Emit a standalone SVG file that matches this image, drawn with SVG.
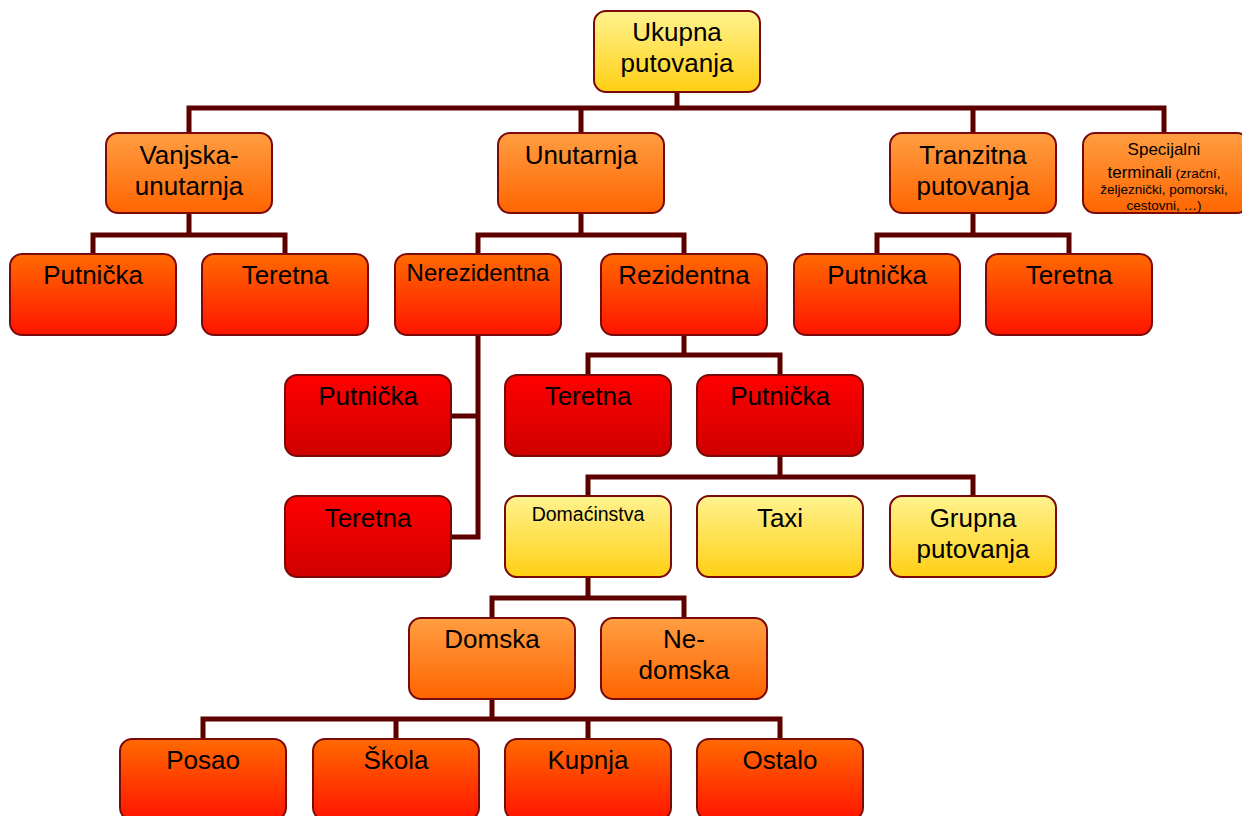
<svg xmlns="http://www.w3.org/2000/svg" width="1242" height="816" viewBox="0 0 1242 816">
<defs>
<linearGradient id="gY" x1="0" y1="0" x2="0" y2="1"><stop offset="0" stop-color="#fff38f"/><stop offset="1" stop-color="#ffcf14"/></linearGradient>
<linearGradient id="gO" x1="0" y1="0" x2="0" y2="1"><stop offset="0" stop-color="#ff9e42"/><stop offset="1" stop-color="#ff6500"/></linearGradient>
<linearGradient id="gR" x1="0" y1="0" x2="0" y2="1"><stop offset="0" stop-color="#ff6a00"/><stop offset="1" stop-color="#ff1400"/></linearGradient>
<linearGradient id="gD" x1="0" y1="0" x2="0" y2="1"><stop offset="0" stop-color="#ff0000"/><stop offset="1" stop-color="#cf0000"/></linearGradient>
</defs>
<style>
.b{stroke:#7a0a0a;stroke-width:2}
.y{fill:url(#gY)}.o{fill:url(#gO)}.r{fill:url(#gR)}.d{fill:url(#gD)}
text{font-family:"Liberation Sans",Arial,sans-serif;fill:#000;text-anchor:middle}
.t{font-size:26px}
.c{fill:none;stroke:#5c0000;stroke-width:5;stroke-linecap:butt;stroke-linejoin:miter}
</style>
<rect width="1242" height="816" fill="#fff"/>
<g id="connectors" class="c">
<path d="M677 92V108M189 133V108H1164V133M581 108V133M973 108V133"/>
<path d="M189 213V235M93 254V235H285V254"/>
<path d="M581 213V235M478 254V235H684V254"/>
<path d="M973 213V235M877 254V235H1069V254"/>
<path d="M478 335V537H451M478 416H451"/>
<path d="M684 335V355M588 375V355H780V375"/>
<path d="M780 456V477M588 496V477H973V496"/>
<path d="M588 577V598M492 618V598H684V618"/>
<path d="M492 699V719M203 739V719H780V739M396 719V739M588 719V739"/>
</g>
<g id="n-ukupna"><rect class="b y" x="594" y="11" width="166" height="81" rx="12"/><text class="t" x="677" y="41">Ukupna</text><text class="t" x="677" y="72">putovanja</text></g>
<g id="n-vanjska"><rect class="b o" x="106" y="133" width="166" height="80" rx="12"/><text class="t" x="189" y="164">Vanjska-</text><text class="t" x="189" y="195">unutarnja</text></g>
<g id="n-unutarnja"><rect class="b o" x="498" y="133" width="166" height="80" rx="12"/><text class="t" x="581" y="164">Unutarnja</text></g>
<g id="n-tranzitna"><rect class="b o" x="890" y="133" width="166" height="80" rx="12"/><text class="t" x="973" y="164">Tranzitna</text><text class="t" x="973" y="195">putovanja</text></g>
<g id="n-specijalni"><rect class="b o" x="1083" y="133" width="166" height="80" rx="12"/><text x="1164" y="155" font-size="17">Specijalni</text><text x="1164" y="178"><tspan font-size="17">terminali</tspan><tspan font-size="13.5"> (zrační,</tspan></text><text x="1164" y="194" font-size="13.5">željeznički, pomorski,</text><text x="1164" y="210" font-size="13.5">cestovni, …)</text></g>
<g id="n-putnicka1"><rect class="b r" x="10" y="254" width="166" height="81" rx="12"/><text class="t" x="93" y="284">Putnička</text></g>
<g id="n-teretna1"><rect class="b r" x="202" y="254" width="166" height="81" rx="12"/><text class="t" x="285" y="284">Teretna</text></g>
<g id="n-nerezidentna"><rect class="b r" x="395" y="254" width="166" height="81" rx="12"/><text x="478" y="281" font-size="24">Nerezidentna</text></g>
<g id="n-rezidentna"><rect class="b r" x="601" y="254" width="166" height="81" rx="12"/><text class="t" x="684" y="284">Rezidentna</text></g>
<g id="n-putnicka2"><rect class="b r" x="794" y="254" width="166" height="81" rx="12"/><text class="t" x="877" y="284">Putnička</text></g>
<g id="n-teretna2"><rect class="b r" x="986" y="254" width="166" height="81" rx="12"/><text class="t" x="1069" y="284">Teretna</text></g>
<g id="n-putnicka3"><rect class="b d" x="285" y="375" width="166" height="81" rx="12"/><text class="t" x="368" y="405">Putnička</text></g>
<g id="n-teretna3"><rect class="b d" x="505" y="375" width="166" height="81" rx="12"/><text class="t" x="588" y="405">Teretna</text></g>
<g id="n-putnicka4"><rect class="b d" x="697" y="375" width="166" height="81" rx="12"/><text class="t" x="780" y="405">Putnička</text></g>
<g id="n-teretna4"><rect class="b d" x="285" y="496" width="166" height="81" rx="12"/><text class="t" x="368" y="527">Teretna</text></g>
<g id="n-domacinstva"><rect class="b y" x="505" y="496" width="166" height="81" rx="12"/><text x="588" y="521" font-size="19.5">Domaćinstva</text></g>
<g id="n-taxi"><rect class="b y" x="697" y="496" width="166" height="81" rx="12"/><text class="t" x="780" y="527">Taxi</text></g>
<g id="n-grupna"><rect class="b y" x="890" y="496" width="166" height="81" rx="12"/><text class="t" x="973" y="527">Grupna</text><text class="t" x="973" y="558">putovanja</text></g>
<g id="n-domska"><rect class="b o" x="409" y="618" width="166" height="81" rx="12"/><text class="t" x="492" y="648">Domska</text></g>
<g id="n-nedomska"><rect class="b o" x="601" y="618" width="166" height="81" rx="12"/><text class="t" x="684" y="648">Ne-</text><text class="t" x="684" y="679">domska</text></g>
<g id="n-posao"><rect class="b r" x="120" y="739" width="166" height="81" rx="12"/><text class="t" x="203" y="769">Posao</text></g>
<g id="n-skola"><rect class="b r" x="313" y="739" width="166" height="81" rx="12"/><text class="t" x="396" y="769">Škola</text></g>
<g id="n-kupnja"><rect class="b r" x="505" y="739" width="166" height="81" rx="12"/><text class="t" x="588" y="769">Kupnja</text></g>
<g id="n-ostalo"><rect class="b r" x="697" y="739" width="166" height="81" rx="12"/><text class="t" x="780" y="769">Ostalo</text></g>
</svg>
